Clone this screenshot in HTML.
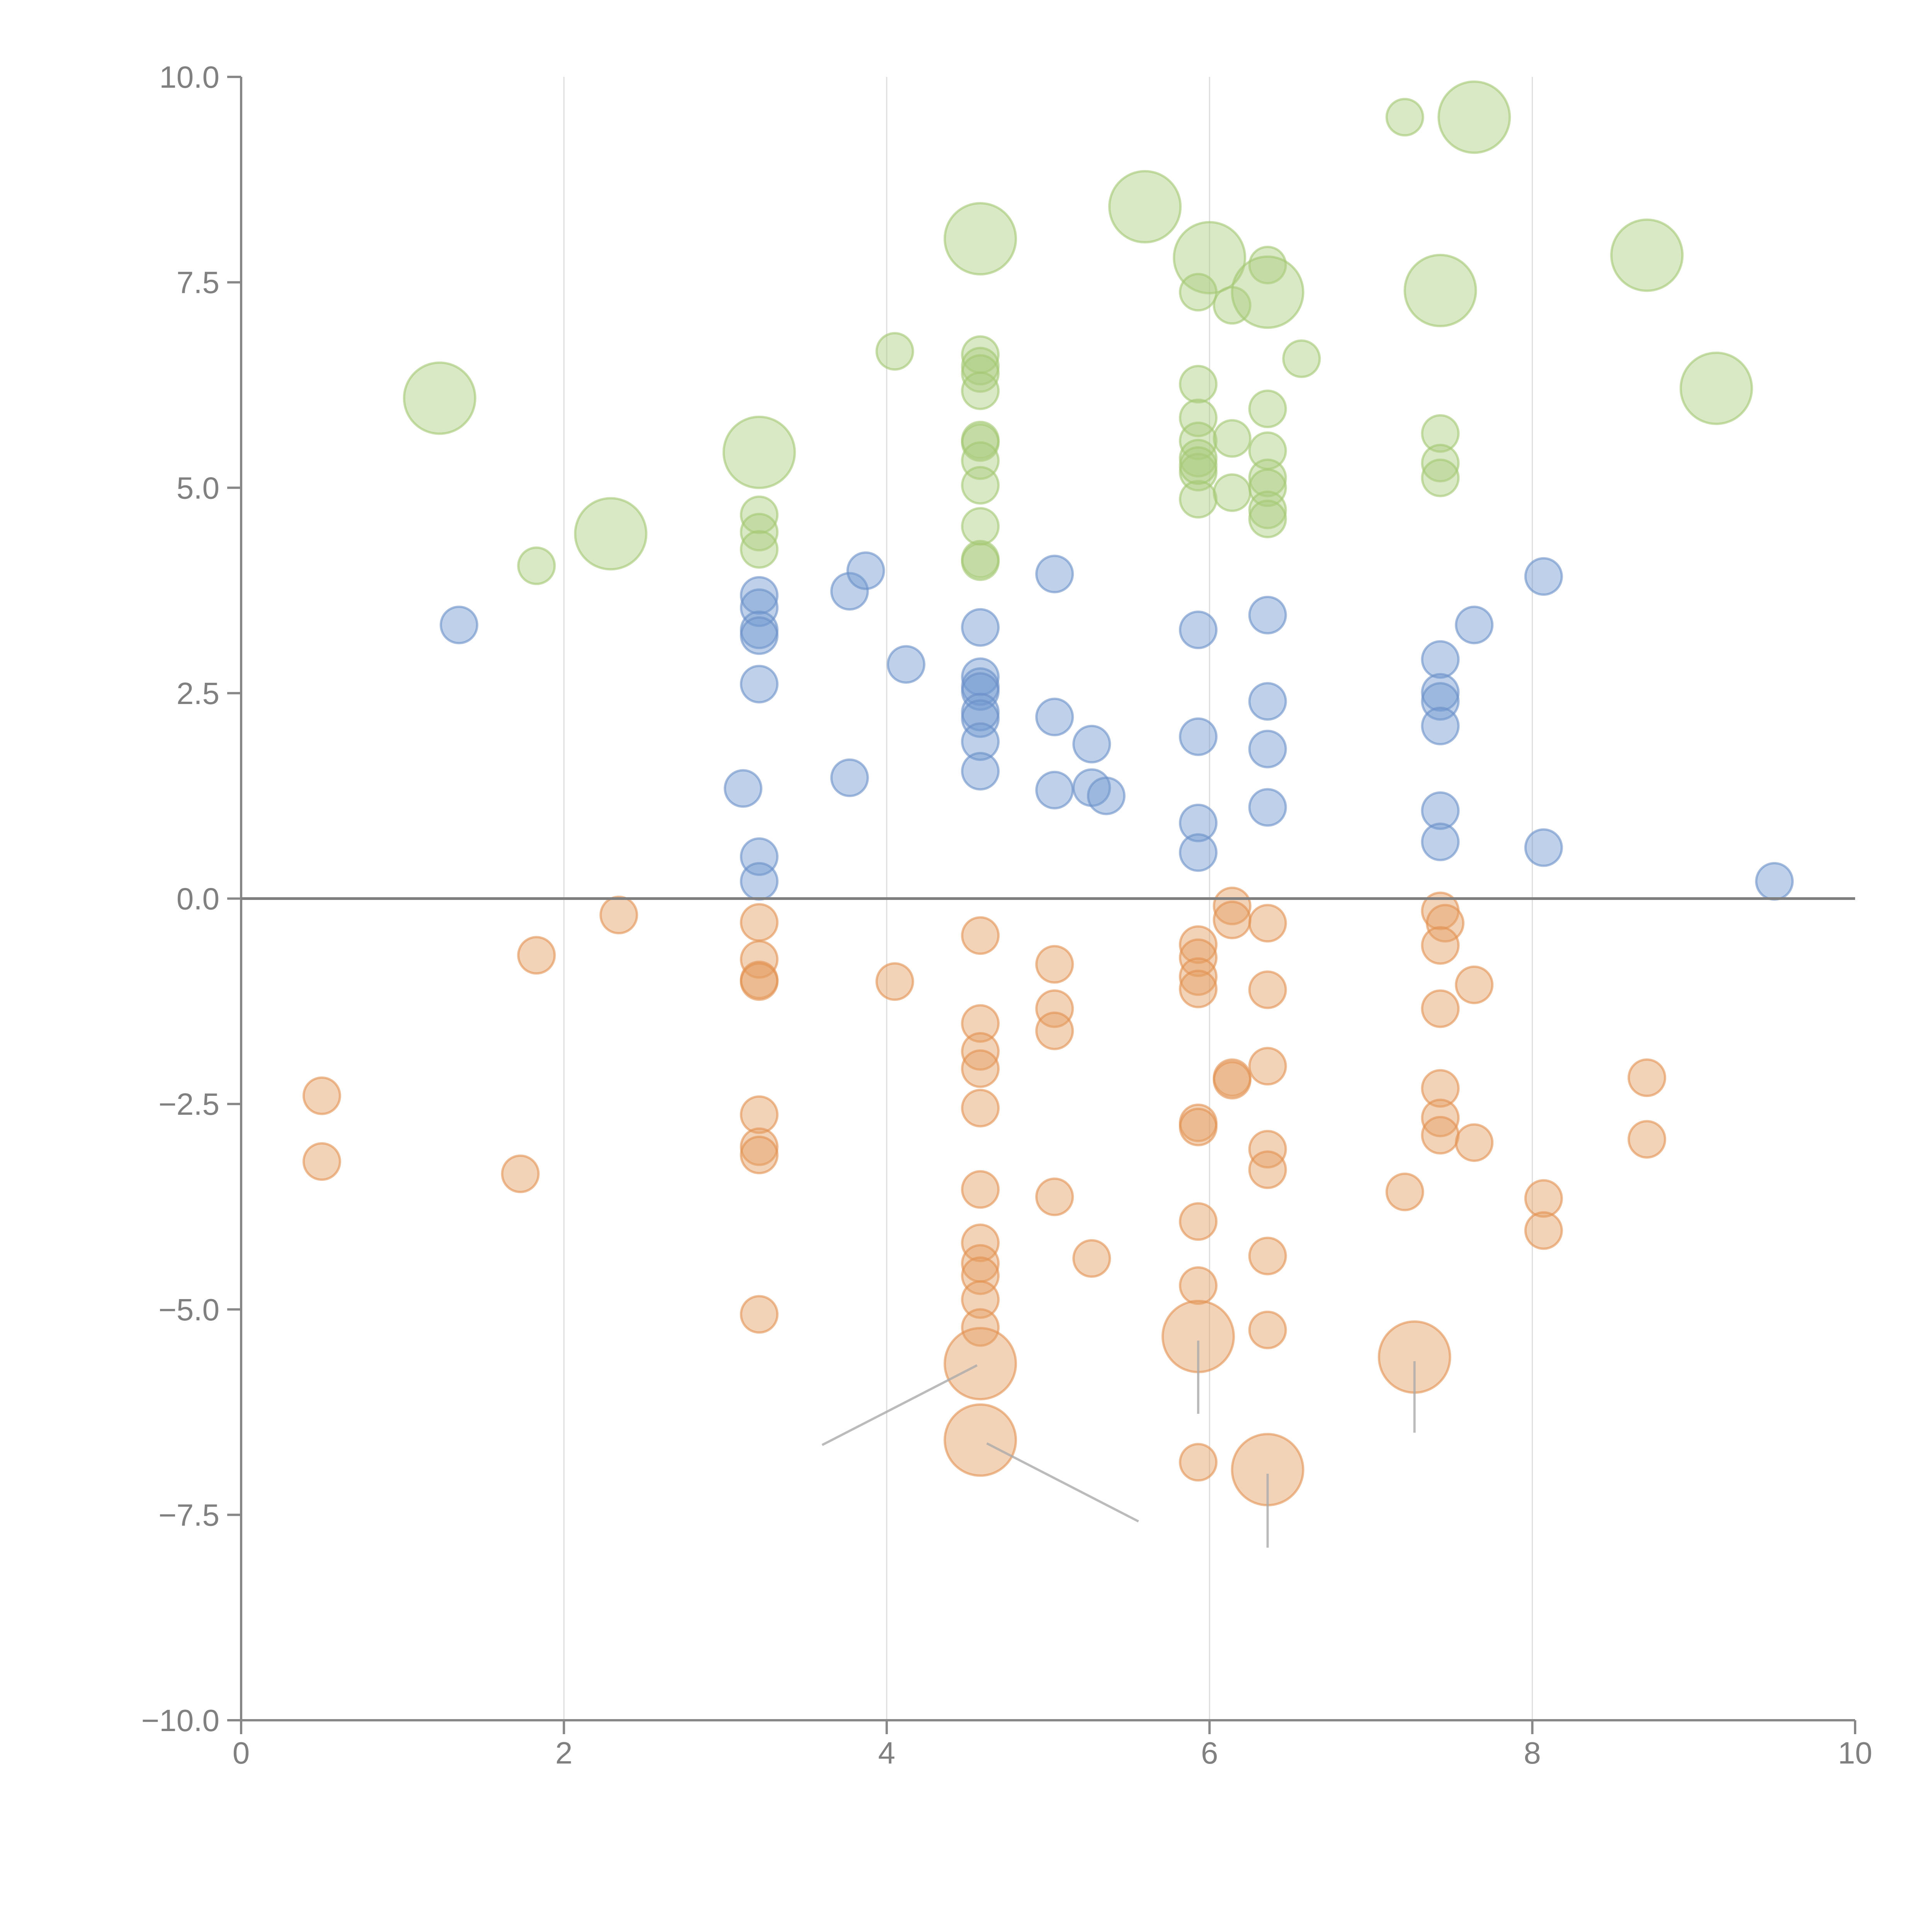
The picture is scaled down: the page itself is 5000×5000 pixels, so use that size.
<!DOCTYPE html>
<html><head><meta charset="utf-8"><style>html,body{margin:0;padding:0;background:#fff}svg{display:block}</style></head>
<body>
<svg id="chart" width="5000" height="5000" viewBox="0 0 5000 5000" xmlns="http://www.w3.org/2000/svg" font-family="'Liberation Sans', sans-serif"></svg>
<script>
const xTicks=[0,2,4,6,8,10];
const xTickLabels=["0","2","4","6","8","10"];
const yTicks=[-10,-7.5,-5,-2.5,0,2.5,5,7.5,10];
const yTickLabels=["\u221210.0","\u22127.5","\u22125.0","\u22122.5","0.0","2.5","5.0","7.5","10.0"];
// [x, y, size] size 1 = small, 2 = large
const greenPts=[[1.23,6.09,2],[1.83,4.05,1],[2.29,4.44,2],[3.21,5.43,2],[3.21,4.67,1],[3.21,4.46,1],[3.21,4.25,1],[4.05,6.66,1],[4.58,8.03,2],[4.58,6.62,1],[4.58,6.48,1],[4.58,6.39,1],[4.58,6.18,1],[4.58,5.58,1],[4.58,5.55,1],[4.58,5.33,1],[4.58,5.03,1],[4.58,4.53,1],[4.58,4.13,1],[4.58,4.10,1],[5.60,8.42,2],[6.00,7.80,2],[5.93,7.38,1],[6.14,7.22,1],[6.36,7.71,1],[6.36,7.38,2],[6.57,6.57,1],[5.93,6.26,1],[5.93,5.85,1],[5.93,5.57,1],[5.93,5.36,1],[5.93,5.19,1],[5.93,4.86,1],[5.93,5.27,1],[6.14,5.60,1],[6.14,4.94,1],[6.36,5.96,1],[6.36,5.45,1],[6.36,5.12,1],[6.36,5.00,1],[6.36,4.73,1],[6.36,4.62,1],[7.21,9.51,1],[7.64,9.51,2],[7.43,7.40,2],[7.43,5.66,1],[7.43,5.30,1],[7.43,5.12,1],[8.71,7.83,2],[9.14,6.21,2]];
const bluePts=[[1.35,3.33,1],[3.11,1.34,1],[3.21,3.69,1],[3.21,3.54,1],[3.21,3.27,1],[3.21,3.20,1],[3.21,2.61,1],[3.21,0.51,1],[3.21,0.21,1],[3.77,3.74,1],[3.87,3.99,1],[4.12,2.85,1],[3.77,1.47,1],[4.58,3.30,1],[4.58,2.70,1],[4.58,2.58,1],[4.58,2.52,1],[4.58,2.27,1],[4.58,2.19,1],[4.58,1.91,1],[4.58,1.55,1],[5.04,3.95,1],[5.04,2.21,1],[5.04,1.32,1],[5.27,1.88,1],[5.27,1.35,1],[5.36,1.25,1],[5.93,3.27,1],[5.93,1.97,1],[5.93,0.92,1],[5.93,0.56,1],[6.36,3.45,1],[6.36,2.40,1],[6.36,1.82,1],[6.36,1.11,1],[7.43,2.91,1],[7.43,2.51,1],[7.43,2.40,1],[7.43,2.10,1],[7.43,1.07,1],[7.43,0.69,1],[7.64,3.33,1],[8.07,3.92,1],[8.07,0.62,1],[9.50,0.21,1]];
const orangePts=[[0.50,-2.40,1],[0.50,-3.20,1],[1.73,-3.35,1],[1.83,-0.69,1],[2.34,-0.20,1],[3.21,-0.29,1],[3.21,-0.74,1],[3.21,-0.99,1],[3.21,-1.01,1],[3.21,-2.63,1],[3.21,-3.02,1],[3.21,-3.12,1],[3.21,-5.06,1],[4.05,-1.01,1],[4.58,-0.45,1],[4.58,-1.52,1],[4.58,-1.86,1],[4.58,-2.07,1],[4.58,-2.55,1],[4.58,-3.54,1],[4.58,-4.19,1],[4.58,-4.44,1],[4.58,-4.59,1],[4.58,-4.88,1],[4.58,-5.22,1],[4.58,-5.66,2],[4.58,-6.59,2],[5.04,-0.80,1],[5.04,-1.34,1],[5.04,-1.61,1],[5.04,-3.63,1],[5.27,-4.38,1],[5.93,-0.56,1],[5.93,-0.72,1],[5.93,-0.95,1],[5.93,-1.10,1],[5.93,-2.73,1],[5.93,-2.78,1],[5.93,-3.93,1],[5.93,-4.71,1],[5.93,-5.33,2],[5.93,-6.86,1],[6.14,-0.09,1],[6.14,-0.26,1],[6.14,-2.18,1],[6.14,-2.21,1],[6.36,-0.30,1],[6.36,-1.11,1],[6.36,-2.04,1],[6.36,-3.05,1],[6.36,-3.30,1],[6.36,-4.35,1],[6.36,-5.25,1],[6.36,-6.95,2],[7.21,-3.57,1],[7.27,-5.58,2],[7.43,-0.15,1],[7.46,-0.30,1],[7.43,-0.57,1],[7.43,-1.34,1],[7.43,-2.31,1],[7.43,-2.67,1],[7.43,-2.88,1],[7.64,-1.05,1],[7.64,-2.97,1],[8.07,-3.65,1],[8.07,-4.04,1],[8.71,-2.18,1],[8.71,-2.93,1]];
// leader lines: [x1,y1,x2,y2] in data units
const leaders=[[4.56,-5.68,3.60,-6.65],[4.62,-6.63,5.56,-7.58],[5.93,-5.38,5.93,-6.27],[7.27,-5.63,7.27,-6.50],[6.36,-7.00,6.36,-7.90]];

const L=624,R=4801,T=199,B=4452;
const sx=v=>L+(v-0)/10*(R-L);
const sy=v=>B-(v+10)/20*(B-T);
const svg=document.getElementById('chart');
const NS='http://www.w3.org/2000/svg';
function mk(tag,attrs,parent){const e=document.createElementNS(NS,tag);for(const k in attrs)e.setAttribute(k,attrs[k]);(parent||svg).appendChild(e);return e;}

const grid=mk('g',{});


[2,4,6,8].forEach(v=>{mk('line',{x1:sx(v),x2:sx(v),y1:T,y2:B,stroke:'#dddddd','stroke-width':3},grid);});

const ax=mk('g',{});


mk('line',{x1:L,x2:L,y1:T,y2:B,stroke:'#888','stroke-width':6},ax);
mk('line',{x1:L,x2:R,y1:B,y2:B,stroke:'#888','stroke-width':6},ax);
xTicks.forEach((v,i)=>{
  mk('line',{x1:sx(v),x2:sx(v),y1:B,y2:B+36,stroke:'#888','stroke-width':6},ax);
  const t=mk('text',{x:sx(v),y:B+112,'text-anchor':'middle','font-size':80,fill:'#808080'},ax);
  
  
  t.textContent=xTickLabels[i];
});
yTicks.forEach((v,i)=>{
  mk('line',{x1:L-36,x2:L,y1:sy(v),y2:sy(v),stroke:'#888','stroke-width':6},ax);
  const t=mk('text',{x:L-56,y:sy(v)+28,'text-anchor':'end','font-size':80,fill:'#808080'},ax);
  
  
  t.textContent=yTickLabels[i];
});

function series(pts,fill,stroke,name){
  const g=mk('g',{});
  
  
  pts.forEach(p=>{
    const c=mk('circle',{cx:sx(p[0]),cy:sy(p[1]),r:p[2]>1?92:47,fill:fill,'fill-opacity':0.45,stroke:stroke,'stroke-opacity':0.6,'stroke-width':6},g);
    
    
  });
}
series(greenPts,'#abcd7f','#a3c872','series-green');
series(bluePts,'#7098d0','#6a90c8','series-blue');
series(orangePts,'#e59d62','#e29150','series-orange');

const z=mk('line',{x1:L,x2:R,y1:sy(0),y2:sy(0),stroke:'#7f7f7f','stroke-width':7});



const lg=mk('g',{});


leaders.forEach(l=>{mk('line',{x1:sx(l[0]),y1:sy(l[1]),x2:sx(l[2]),y2:sy(l[3]),stroke:'#aaaaaa','stroke-opacity':0.8,'stroke-width':6},lg);});
</script>
</body></html>
